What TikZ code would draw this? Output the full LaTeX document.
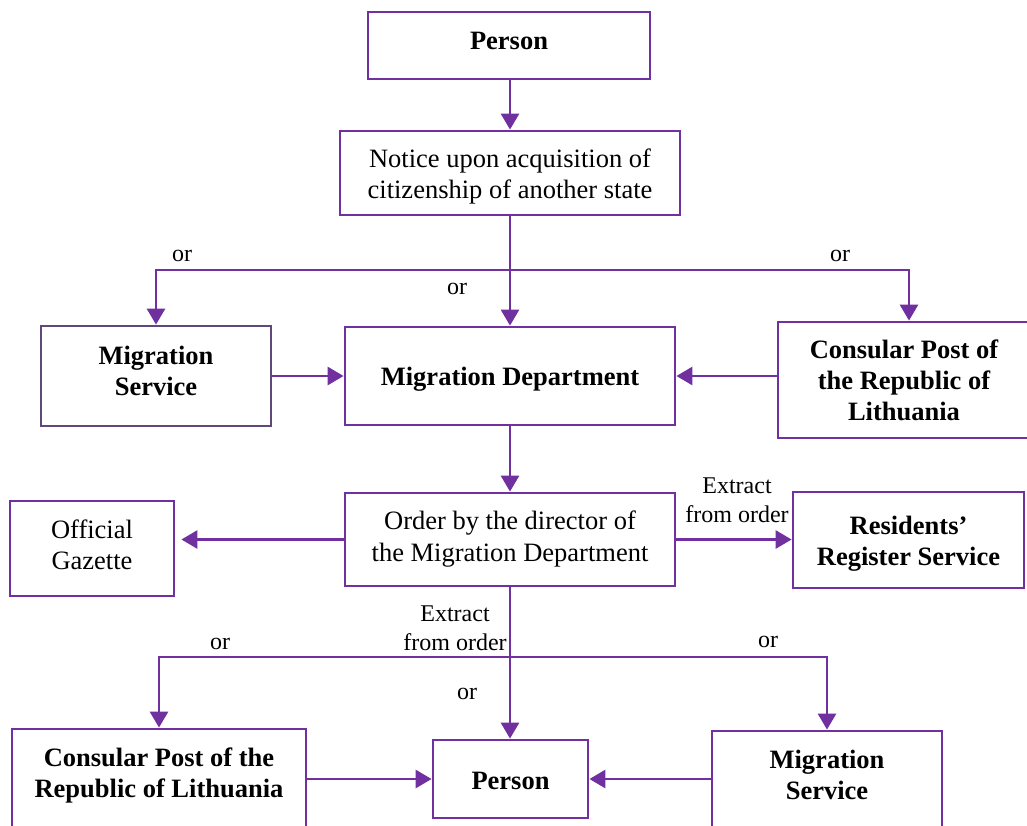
\documentclass[tikz,border=0pt]{standalone}
\usepackage{fontspec}
\setmainfont{Liberation Serif}
\usetikzlibrary{arrows.meta}
\definecolor{linepurple}{HTML}{7030A0}
\definecolor{graypurple}{HTML}{5F497A}
\begin{document}
\begin{tikzpicture}[x=1pt,y=-1pt,
  box/.style={draw=linepurple,line width=2.8pt,fill=white,inner sep=0pt,align=center,
    font=\fontsize{26.5}{32}\selectfont},
  bbox/.style={box,font=\fontsize{26.5}{31}\selectfont\bfseries},
  txt/.style={inner sep=0pt,align=center,font=\fontsize{26.5}{31}\selectfont\bfseries},
  rtxt/.style={inner sep=0pt,align=center,font=\fontsize{26.5}{31}\selectfont},
  lbl/.style={inner sep=0pt,align=center,font=\fontsize{24}{28.5}\selectfont},
  conn/.style={draw=linepurple,line width=2.8pt},
  arr/.style={conn,-{Triangle[width=18pt,length=16pt]}}]
\useasboundingbox (0,0) rectangle (1027,825);
% nodes
\node[box,minimum width=282pt,minimum height=67pt,
  label={[txt,yshift=5pt]center:Person}] (p1) at (509,45.5) {};
\node[box,minimum width=340pt,minimum height=84pt,
  label={[rtxt,yshift=-3pt]center:{Notice upon acquisition of\\citizenship of another state}}] (notice) at (510,173) {};
\node[box,draw=graypurple,minimum width=230pt,minimum height=100pt,
  label={[txt,yshift=5pt]center:{Migration\\Service}}] (ms1) at (156,376) {};
\node[box,minimum width=330pt,minimum height=98pt,
  label={[txt,yshift=-3pt]center:Migration Department}] (md) at (510,376) {};
\node[bbox,minimum width=252pt,minimum height=116pt] (cp1) at (904,380) {Consular Post of\\the Republic of\\Lithuania};
\node[box,minimum width=330pt,minimum height=93pt] (order) at (510,539.5) {Order by the director of\\the Migration Department};
\node[box,minimum width=164pt,minimum height=95pt,
  label={[rtxt,yshift=4pt]center:{Official\\Gazette}}] (gaz) at (92,548.5) {};
\node[box,minimum width=231pt,minimum height=96pt,
  label={[txt,yshift=-4pt]center:{Residents'\\Register Service}}] (rr) at (908.5,540) {};
\node[box,minimum width=294pt,minimum height=111pt] (cp2) at (159,784.5) {};
\node[txt] (cp2t) at (159,775) {Consular Post of the\\Republic of Lithuania};
\node[box,minimum width=155pt,minimum height=78pt,
  label={[txt,yshift=-2pt]center:Person}] (pb) at (510.5,779) {};
\node[box,minimum width=230pt,minimum height=109pt] (ms2) at (827,785.5) {};
\node[txt] (ms2t) at (827,775) {Migration\\Service};
% branch points
\coordinate (b1) at (510,270);
\coordinate (b2) at (510,657);
% connectors
\draw[arr] (notice.north |- p1.south) -- (notice.north);
\draw[arr] (notice.south) -- (md.north);
\draw[arr] (b1) -| (ms1.north);
\draw[arr] (b1) -| ([xshift=5pt]cp1.north);
\draw[arr] (ms1.east) -- (md.west);
\draw[arr] (cp1.west |- md.east) -- (md.east);
\draw[arr] (md.south) -- (order.north);
\draw[arr,shorten >=6pt] (order.west) -- (order.west -| gaz.east);
\draw[arr] (order.east) -- (rr.west |- order.east);
\draw[arr] (order.south) -- (order.south |- pb.north);
\draw[arr] (b2) -| (cp2.north);
\draw[arr] (b2) -| (ms2.north);
\draw[arr] (cp2.east |- pb.west) -- (pb.west);
\draw[arr] (ms2.west |- pb.east) -- (pb.east);
% labels
\node[lbl] (or1) at (182,256) {or};
\node[lbl] (or2) at (457,289) {or};
\node[lbl] (or3) at (840,256) {or};
\node[lbl] (ex1) at (737,500) {Extract\\from order};
\node[lbl] (ex2) at (455,628) {Extract\\from order};
\node[lbl] (or4) at (220,644) {or};
\node[lbl] (or5) at (467,694) {or};
\node[lbl] (or6) at (768,642) {or};
\end{tikzpicture}
\end{document}
